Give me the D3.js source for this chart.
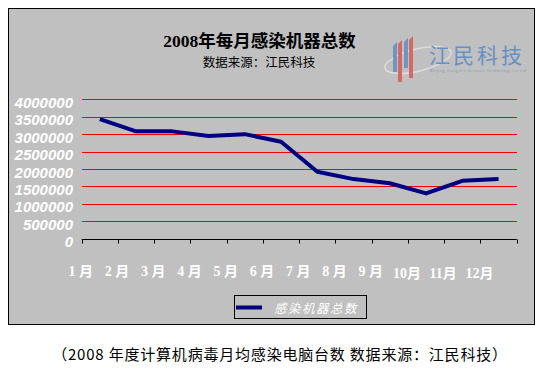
<!DOCTYPE html>
<html>
<head>
<meta charset="utf-8">
<script src="https://cdn.jsdelivr.net/npm/d3@7/dist/d3.min.js"></script>
<style>
  html, body { margin: 0; padding: 0; background: #fff; }
  svg { display: block; }
</style>
</head>
<body>
<div id="chart"></div>
<script>
// ---- data ----
const months = ['1月', '2月', '3月', '4月', '5月', '6月', '7月', '8月', '9月', '10月', '11月', '12月'];
const infected = [3430000, 3080000, 3080000, 2950000, 3000000, 2780000, 1920000, 1710000, 1590000, 1300000, 1660000, 1710000];
const yTicks = [0, 500000, 1000000, 1500000, 2000000, 2500000, 3000000, 3500000, 4000000];
const seriesName = '感染机器总数';
const title = '2008年每月感染机器总数';
const subtitle = '数据来源：江民科技';
const caption = '（2008 年度计算机病毒月均感染电脑台数 数据来源：江民科技）';

const W = 544, H = 372;
const svg = d3.select('#chart').append('svg').attr('width', W).attr('height', H);

// grey chart panel
svg.append('rect')
    .attr('x', 8.5).attr('y', 8.5).attr('width', 526).attr('height', 316)
    .attr('fill', '#c0c0c0').attr('stroke', '#000').attr('stroke-width', 1);

// ---- scales ----
const x = d3.scaleBand().domain(months).range([81.7, 516.7]);
const y = d3.scaleLinear().domain([0, 4000000]).range([238.7, 99.3]);

// red gridlines
svg.append('g').attr('shape-rendering', 'crispEdges').selectAll('line')
    .data(yTicks.filter(d => d > 0))
    .enter().append('line')
    .attr('x1', x.range()[0]).attr('x2', x.range()[1])
    .attr('y1', d => Math.round(y(d)) + 0.5).attr('y2', d => Math.round(y(d)) + 0.5)
    .attr('stroke', '#f00000').attr('stroke-width', 1);

// y labels (white bold italic, a little below their gridline)
svg.append('g').selectAll('text')
    .data(yTicks)
    .enter().append('text')
    .attr('x', 73).attr('y', d => y(d) + 8.5)
    .attr('text-anchor', 'end')
    .attr('font-family', 'Arial, "Liberation Sans", sans-serif')
    .attr('font-size', 15).attr('font-weight', 'bold').attr('font-style', 'italic')
    .attr('fill', '#fff')
    .text(d => d);

// x axis: line + ticks at category boundaries
const xAxis = d3.axisBottom(x).tickSize(0).tickFormat('');
const gx = svg.append('g').attr('transform', 'translate(0,' + (Math.round(y(0)) + 0.5) + ')').call(xAxis);
gx.select('.domain').attr('stroke', '#000').attr('stroke-width', 1.2).attr('d', 'M' + x.range()[0] + ',0H' + x.range()[1]);
gx.selectAll('.tick').remove();
const bounds = months.map(m => x(m)).concat([x.range()[1]]);
gx.selectAll('line.tk').data(bounds).enter().append('line').attr('class', 'tk')
    .attr('x1', d => Math.round(d) + 0.5).attr('x2', d => Math.round(d) + 0.5)
    .attr('y1', 0).attr('y2', 4)
    .attr('stroke', '#000').attr('stroke-width', 1);

// month labels (sit on the left boundary of each category, like the original)
svg.append('g').selectAll('text')
    .data(months)
    .enter().append('text')
    .attr('x', d => x(d) - 1)
    .attr('y', d => d.length > 2 ? 278 : 275.5)
    .attr('text-anchor', 'middle')
    .attr('font-family', '"Liberation Serif", "Noto Sans CJK SC", serif')
    .attr('font-size', 14).attr('font-weight', 'bold')
    .attr('fill', '#fff')
    .text(d => d.length > 2 ? d : d.replace('月', ' 月'));

// series line
const line = d3.line()
    .x((d, i) => x(months[i]) + x.bandwidth() / 2)
    .y(d => y(d));
svg.append('path')
    .datum(infected)
    .attr('d', line)
    .attr('fill', 'none').attr('stroke', '#000080')
    .attr('stroke-width', 4).attr('stroke-linejoin', 'round');

// titles
svg.append('text')
    .attr('x', 259.5).attr('y', 46.5).attr('text-anchor', 'middle')
    .attr('font-family', '"Liberation Serif", "Noto Sans CJK SC", serif')
    .attr('font-size', 17.5).attr('font-weight', 'bold').attr('fill', '#000')
    .text(title);
svg.append('text')
    .attr('x', 259).attr('y', 67).attr('text-anchor', 'middle')
    .attr('font-family', '"Noto Sans CJK SC", sans-serif')
    .attr('font-size', 12.5).attr('fill', '#000')
    .text(subtitle);

// watermark logo (approximation)
const logo = svg.append('g').attr('opacity', 0.8);
logo.append('ellipse')
    .attr('cx', 418).attr('cy', 60).attr('rx', 34).attr('ry', 11)
    .attr('transform', 'rotate(-14 418 60)')
    .attr('fill', 'none').attr('stroke', '#e4e4e4').attr('stroke-width', 1.5);
[[393, '#5b88c4'], [398, '#d9534f'], [404, '#5b88c4'], [409, '#d9534f']].forEach(function (s, i) {
    logo.append('path')
        .attr('d', 'M' + s[0] + ',' + (46 - i * 2) + ' l4,-4 l0,' + (30 + (i % 2) * 12) + ' l-4,0 z')
        .attr('fill', s[1]);
});
logo.append('text')
    .attr('x', 429).attr('y', 63)
    .attr('font-family', '"Noto Sans CJK SC", sans-serif')
    .attr('font-size', 21)
    .attr('fill', '#4f86c6').attr('letter-spacing', 3)
    .text('江民科技');
logo.append('text')
    .attr('x', 430).attr('y', 72)
    .attr('font-family', 'Arial, sans-serif').attr('font-size', 3.5)
    .attr('fill', '#6f93c0').attr('textLength', 96)
    .text('Beijing Jiangmin Science Technology Co.Ltd');

// legend
const lg = svg.append('g');
lg.append('rect')
    .attr('x', 234.5).attr('y', 295.5).attr('width', 132).attr('height', 23)
    .attr('fill', 'none').attr('stroke', '#000').attr('stroke-width', 1);
lg.append('line')
    .attr('x1', 236).attr('x2', 262).attr('y1', 307.5).attr('y2', 307.5)
    .attr('stroke', '#000080').attr('stroke-width', 4);
lg.append('text')
    .attr('x', 274).attr('y', 312.5)
    .attr('font-family', '"Noto Sans CJK SC", sans-serif')
    .attr('font-size', 12.5).attr('font-style', 'italic')
    .attr('letter-spacing', 1.5)
    .attr('fill', '#fff')
    .text(seriesName);

// caption under the chart
svg.append('text')
    .attr('x', 280).attr('y', 360).attr('text-anchor', 'middle')
    .attr('font-family', '"Noto Sans CJK SC", sans-serif')
    .attr('font-size', 15).attr('letter-spacing', 0.8).attr('fill', '#000')
    .text(caption);
</script>
</body>
</html>
